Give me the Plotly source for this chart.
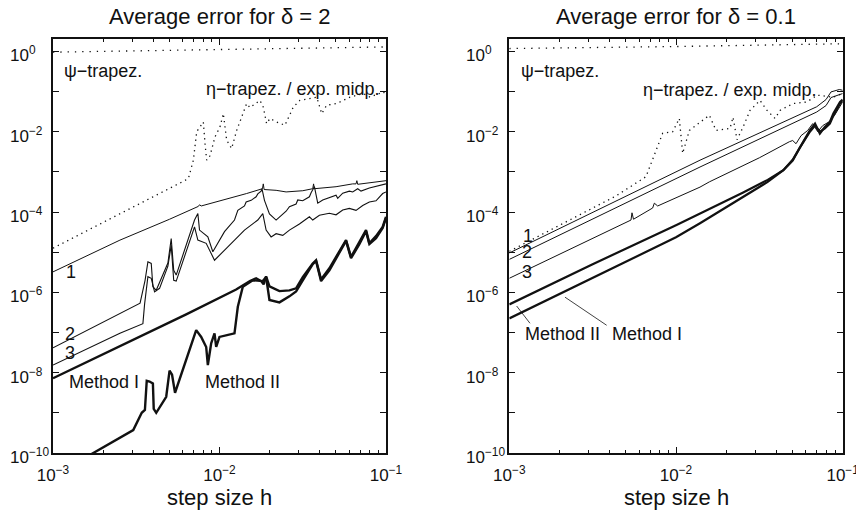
import numpy as np
import plotly.graph_objects as go

# ---------------- data (log10 h, log10 error) ----------------
# Panel delta = 2
psi_L_h = [-3, -2, -1]
psi_L_e = [-0.02, 0.04, 0.11]

eta_L_h = [-3, -2.187, -2.157, -2.137, -2.117, -2.097, -2.087, -2.077, -2.057, -2.027, -1.997, -1.977,
           -1.957, -1.927, -1.897, -1.837, -1.817, -1.797, -1.757, -1.737, -1.717, -1.697, -1.656,
           -1.607, -1.557, -1.517, -1.456, -1.416, -1.386, -1.356, -1.296, -1.216, -1.136, -1.096,
           -1.016, -1.0]
eta_L_e = [-4.9, -3.17, -2.71, -2.0, -1.88, -1.76, -2.3, -2.71, -2.6, -2.13, -1.88, -1.55,
           -2.21, -2.42, -1.97, -1.3, -1.4, -1.34, -1.22, -1.39, -1.8, -1.67, -1.76,
           -1.84, -1.39, -1.22, -1.18, -1.14, -1.55, -1.34, -1.3, -1.14, -1.05, -1.14,
           -1.01, -1.08]

l1_L_h = [-3, -2.598, -2.3, -2.127, -2.12, -2.11, -1.837, -1.77, -1.742, -1.737, -1.732, -1.66,
          -1.6, -1.5, -1.44, -1.435, -1.43, -1.3, -1.25, -1.2, -1.18, -1.175, -1.17, -1.1, -1.0]
l1_L_e = [-5.49, -4.70, -4.18, -3.86, -3.82, -3.85, -3.54, -3.46, -3.42, -3.30, -3.44, -3.46,
          -3.50, -3.47, -3.42, -3.30, -3.42, -3.37, -3.33, -3.30, -3.30, -3.22, -3.31, -3.28, -3.22]

l2_L_h = [-3, -2.598, -2.477, -2.447, -2.43, -2.41, -2.40, -2.38, -2.31, -2.29, -2.275, -2.26,
          -2.15, -2.13, -2.12, -2.07, -2.04, -1.97, -1.91, -1.89, -1.85, -1.84, -1.81, -1.78,
          -1.77, -1.75, -1.745, -1.73, -1.70, -1.66, -1.62, -1.60, -1.58, -1.54, -1.53, -1.50,
          -1.46, -1.45, -1.43, -1.41, -1.38, -1.35, -1.30, -1.29, -1.26, -1.22, -1.2, -1.17,
          -1.15, -1.1, -1.06, -1.0]
l2_L_e = [-7.38, -6.53, -6.27, -5.7, -5.24, -5.28, -5.86, -5.95, -5.27, -4.66, -5.45, -5.57,
          -4.2, -4.04, -4.45, -4.62, -4.99, -4.49, -4.2, -3.96, -3.85, -3.75, -3.71, -3.62,
          -3.55, -3.48, -3.42, -3.71, -4.05, -4.2, -4.05, -3.98, -3.87, -3.8, -3.7, -3.72,
          -3.62, -3.52, -3.37, -3.78, -3.7, -3.65, -3.58, -3.66, -3.53, -3.48, -3.5, -3.42,
          -3.48, -3.40, -3.36, -3.30]

l3_L_h = [-3, -2.598, -2.46, -2.45, -2.43, -2.41, -2.39, -2.36, -2.31, -2.29, -2.275, -2.26,
          -2.15, -2.13, -2.08, -2.03, -1.95, -1.85, -1.77, -1.74, -1.72, -1.69, -1.66, -1.62,
          -1.58, -1.55, -1.52, -1.46, -1.44, -1.40, -1.34, -1.30, -1.26, -1.22, -1.18, -1.14,
          -1.1, -1.06, -1.02, -1.0]
l3_L_e = [-7.81, -7.02, -6.78, -6.3, -5.61, -5.65, -5.99, -5.9, -5.35, -4.83, -5.7, -5.72,
          -4.37, -4.7, -4.78, -5.2, -4.87, -4.45, -4.2, -4.04, -4.45, -4.62, -4.54, -4.58,
          -4.45, -4.38, -4.3, -4.12, -4.2, -4.08, -4.03, -4.07, -3.95, -3.91, -3.96, -3.84,
          -3.75, -3.72, -3.54, -3.5]

m1_L_h = [-3, -2.6, -2.2, -1.9, -1.817, -1.78, -1.75, -1.735, -1.72, -1.70, -1.64, -1.58, -1.54,
          -1.50, -1.44, -1.42, -1.39, -1.34, -1.30, -1.24, -1.21, -1.16, -1.12, -1.10, -1.06,
          -1.02, -1.0]
m1_L_e = [-8.14, -7.35, -6.55, -5.93, -5.72, -5.65, -5.72, -5.8, -5.6, -5.85, -5.97, -5.95, -5.9,
          -5.62, -5.28, -5.2, -5.68, -5.4, -5.12, -4.7, -5.12, -4.75, -4.45, -4.78, -4.6,
          -4.37, -4.12]

m2_L_h = [-3, -2.758, -2.518, -2.467, -2.448, -2.437, -2.42, -2.40, -2.395, -2.38, -2.32, -2.30,
          -2.285, -2.267, -2.14, -2.11, -2.08, -2.07, -2.05, -2.03, -2.02, -2.0, -1.91, -1.89,
          -1.86, -1.80, -1.74, -1.72, -1.70, -1.64, -1.58, -1.54, -1.50, -1.44, -1.42, -1.39,
          -1.34, -1.30, -1.24, -1.21, -1.16, -1.12, -1.10, -1.06, -1.02, -1.0]
m2_L_e = [-10.6, -10.0, -9.43, -9.0, -8.93, -8.2, -8.22, -8.27, -8.9, -9.0, -8.6, -7.95,
          -8.05, -8.5, -6.94, -7.11, -7.36, -7.81, -7.27, -7.02, -7.36, -7.11, -7.02, -6.36,
          -5.86, -5.70, -5.72, -5.62, -6.19, -6.25, -6.10, -5.98, -5.70, -5.30, -5.22, -5.72,
          -5.45, -5.15, -4.72, -5.15, -4.8, -4.48, -4.8, -4.65, -4.4, -4.15]

# Panel delta = 0.1
psi_R_h = [-3, -2, -1]
psi_R_e = [0.07, 0.12, 0.19]

eta_R_h = [-3, -2.36, -2.18, -2.10, -2.08, -2.02, -1.98, -1.96, -1.92, -1.80, -1.76, -1.676,
           -1.658, -1.634, -1.598, -1.556, -1.496, -1.454, -1.406, -1.376, -1.298, -1.214,
           -1.154, -1.058, -1.0]
eta_R_e = [-4.98, -3.6, -3.12, -2.29, -2.04, -2.0, -1.67, -2.54, -1.97, -1.59, -1.97, -1.92,
           -1.64, -2.2, -1.89, -1.47, -1.22, -1.47, -1.67, -1.47, -1.3, -1.26,
           -1.09, -1.14, -1.05]

l1_R_h = [-3, -1.856, -1.156, -1.10, -1.07, -1.05, -1.02, -1.0]
l1_R_e = [-5.02, -2.71, -1.38, -1.2, -1.01, -0.98, -0.95, -0.97]

l2_R_h = [-3, -1.856, -1.156, -1.10, -1.07, -1.03, -1.0]
l2_R_e = [-5.18, -2.88, -1.51, -1.35, -1.15, -1.10, -1.05]

l3_R_h = [-3, -2.27, -2.264, -2.255, -2.14, -2.13, -2.11, -1.856, -1.8, -1.5, -1.32, -1.30,
          -1.28, -1.25, -1.21, -1.18, -1.15, -1.12, -1.08, -1.05, -1.0]
l3_R_e = [-5.65, -4.2, -4.02, -4.18, -3.9, -3.78, -3.85, -3.38, -3.25, -2.65, -2.25, -2.22,
          -2.3, -2.1, -1.97, -1.8, -2.0, -1.85, -1.75, -1.6, -1.26]

m2_R_h = [-3, -2.5, -2.0, -1.856, -1.6, -1.45, -1.356, -1.30, -1.257, -1.197, -1.166, -1.137,
          -1.107, -1.077, -1.056, -1.016, -1.0]
m2_R_e = [-6.30, -5.3, -4.33, -4.04, -3.52, -3.2, -2.96, -2.7, -2.38, -1.97, -1.8, -2.05,
          -1.88, -1.76, -1.55, -1.26, -1.2]

m1_R_h = [-3, -2.5, -2.0, -1.856, -1.6, -1.45, -1.356, -1.30, -1.257, -1.197, -1.166, -1.137,
          -1.107, -1.077, -1.056, -1.016, -1.0]
m1_R_e = [-6.65, -5.65, -4.63, -4.28, -3.62, -3.25, -2.96, -2.72, -2.40, -2.0, -1.85, -2.0,
          -1.92, -1.8, -1.6, -1.3, -1.22]

# pointer lines for the right-panel method labels
ptr2_h = [-2.876, -2.956]
ptr2_e = [-6.77, -6.34]
ptr1_h = [-2.416, -2.666]
ptr1_e = [-6.82, -6.12]

titles = ["Average error for δ = 2", "Average error for δ = 0.1"]
xlabel = "step size h"
x_major = [1e-3, 1e-2, 1e-1]
x_major_text = ["10<sup>−3</sup>", "10<sup>−2</sup>", "10<sup>−1</sup>"]
y_decades = list(range(-10, 1))
y_label_decades = [0, -2, -4, -6, -8, -10]

FONT = "Liberation Sans, Arial, Helvetica, sans-serif"
INK = "#111111"

fig = go.Figure()


def add_line(lh, le, ax, width, dash=None):
    fig.add_trace(go.Scatter(
        x=10 ** np.array(lh, dtype=float), y=10 ** np.array(le, dtype=float),
        mode="lines", line=dict(color=INK, width=width, dash=dash),
        xaxis="x" if ax == 1 else "x2", yaxis="y" if ax == 1 else "y2",
        showlegend=False, hoverinfo="skip"))


DOT = "1.3px,6px"
add_line(psi_L_h, psi_L_e, 1, 1.3, DOT)
add_line(eta_L_h, eta_L_e, 1, 1.3, "1.3px,4px")
add_line(l1_L_h, l1_L_e, 1, 1.0)
add_line(l2_L_h, l2_L_e, 1, 1.1)
add_line(l3_L_h, l3_L_e, 1, 1.1)
add_line(m1_L_h, m1_L_e, 1, 2.4)
add_line(m2_L_h, m2_L_e, 1, 2.4)

add_line(psi_R_h, psi_R_e, 2, 1.3, DOT)
add_line(eta_R_h, eta_R_e, 2, 1.3, "1.3px,4px")
add_line(l1_R_h, l1_R_e, 2, 1.0)
add_line(l2_R_h, l2_R_e, 2, 1.0)
add_line(l3_R_h, l3_R_e, 2, 1.0)
add_line(m2_R_h, m2_R_e, 2, 2.2)
add_line(m1_R_h, m1_R_e, 2, 2.2)
add_line(ptr2_h, ptr2_e, 2, 0.8)
add_line(ptr1_h, ptr1_e, 2, 0.8)

x_minor = [m * 10.0 ** d for d in (-3, -2) for m in range(2, 10)]

xax = dict(type="log", range=[-3, -1], tickvals=x_major, ticktext=x_major_text,
           ticks="inside", ticklen=6, tickwidth=1, tickcolor=INK, automargin=False,
           showline=True, linecolor=INK, linewidth=1.5, mirror="allticks",
           showgrid=False, zeroline=False, ticklabelstandoff=6, ticklabeloverflow="allow",
           tickfont=dict(family=FONT, size=17, color=INK),
           minor=dict(tickvals=x_minor, ticks="inside", ticklen=3, tickcolor=INK, showgrid=False))
yax = dict(type="log", range=[-10, 0.3], tickvals=[10.0 ** k for k in y_decades],
           showticklabels=False, ticks="inside", ticklen=6, tickwidth=1, tickcolor=INK,
           showline=True, linecolor=INK, linewidth=1.5, mirror="allticks", automargin=False,
           showgrid=False, zeroline=False)

dom_L = [53 / 856, 386 / 856]
dom_R = [509.3 / 856, 842.7 / 856]
dom_Y = [1 - 453 / 512, 1 - 39.3 / 512]

fig.update_layout(
    template="none",
    width=856, height=512, margin=dict(l=0, r=0, t=0, b=0, autoexpand=False),
    paper_bgcolor="white", plot_bgcolor="white",
    font=dict(family=FONT, color=INK),
    xaxis=dict(domain=dom_L, anchor="y", **xax),
    yaxis=dict(domain=dom_Y, anchor="x", **yax),
    xaxis2=dict(domain=dom_R, anchor="y2", **xax),
    yaxis2=dict(domain=dom_Y, anchor="x2", **yax),
)

ann = []
for i, dom in enumerate((dom_L, dom_R)):
    cx = (dom[0] + dom[1]) / 2
    ann.append(dict(text=titles[i], x=cx, y=1 - 16 / 512, xref="paper", yref="paper",
                    xanchor="center", yanchor="middle", showarrow=False,
                    font=dict(size=22, family=FONT, color=INK)))
    ann.append(dict(text=xlabel, x=cx, y=1 - 497 / 512, xref="paper", yref="paper",
                    xanchor="center", yanchor="middle", showarrow=False,
                    font=dict(size=22, family=FONT, color=INK)))
    yref = "y" if i == 0 else "y2"
    for k in y_label_decades:
        ann.append(dict(text="10<sup>−%d</sup>" % (-k) if k < 0 else "10<sup>0</sup>",
                        x=dom[0] - 45 / 856, y=k, xref="paper", yref=yref,
                        xanchor="left", yanchor="middle", yshift=-3, showarrow=False,
                        font=dict(size=17, family=FONT, color=INK)))

labels_L = [("ψ−trapez.", -2.946, -0.5, "left"),
            ("η−trapez. / exp. midp.", -2.093, -0.93, "left"),
            ("1", -2.892, -5.50, "center"), ("2", -2.898, -7.04, "center"),
            ("3", -2.898, -7.51, "center"),
            ("Method I", -2.918, -8.23, "left"), ("Method II", -2.099, -8.23, "left")]
labels_R = [("ψ−trapez.", -2.94, -0.48, "left"),
            ("η−trapez. / exp. midp.", -2.212, -0.95, "left"),
            ("1", -2.885, -4.60, "center"), ("2", -2.891, -5.0, "center"),
            ("3", -2.891, -5.50, "center"),
            ("Method II", -2.916, -7.03, "left"), ("Method I", -2.396, -7.03, "left")]
for labels, xr, yr in ((labels_L, "x", "y"), (labels_R, "x2", "y2")):
    for t, lx, ly, xa in labels:
        ann.append(dict(text=t, x=lx, y=ly, xref=xr, yref=yr, xanchor=xa, yanchor="middle",
                        showarrow=False, font=dict(size=18, family=FONT, color=INK)))

fig.update_layout(annotations=ann)
fig.write_html("out.html")
